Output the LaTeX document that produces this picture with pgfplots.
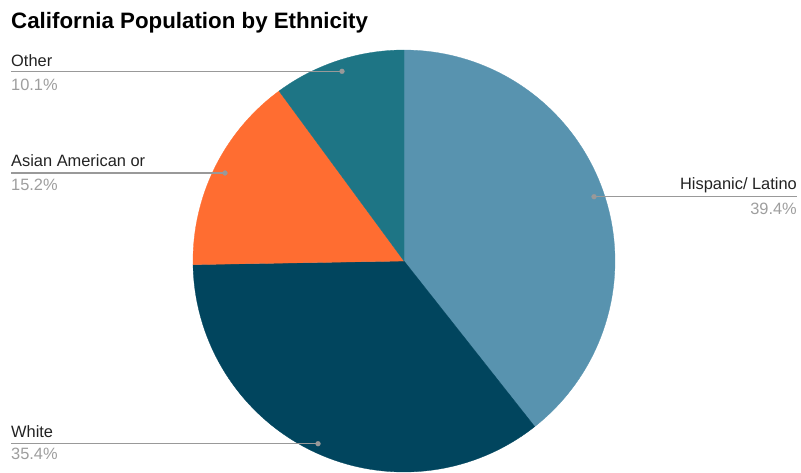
\documentclass[border=0pt]{standalone}
\usepackage{pgfplots}
\usepackage{pgfplotstable}
\pgfplotsset{compat=1.18}
\usepackage{fontspec}
\setmainfont{Liberation Sans}
\definecolor{cHisp}{RGB}{88,147,175}
\definecolor{cWhite}{RGB}{1,69,94}
\definecolor{cAsian}{RGB}{255,109,49}
\definecolor{cOther}{RGB}{30,117,133}
\definecolor{cText}{RGB}{34,34,34}
\definecolor{cPct}{RGB}{158,158,158}
\definecolor{cLine}{RGB}{153,153,153}
\pgfplotstableread{
label value
Hispanic 39.4
White 35.4
Asian 15.2
Other 10.1
}\piedata
\newcommand{\lbl}{\fontsize{16.4bp}{19bp}\selectfont}
\begin{document}
\begin{tikzpicture}
\pgfplotstablegetelem{0}{value}\of\piedata \pgfmathsetmacro{\vA}{\pgfplotsretval}
\pgfplotstablegetelem{1}{value}\of\piedata \pgfmathsetmacro{\vB}{\pgfplotsretval}
\pgfplotstablegetelem{2}{value}\of\piedata \pgfmathsetmacro{\vC}{\pgfplotsretval}
\pgfplotstablegetelem{3}{value}\of\piedata \pgfmathsetmacro{\vD}{\pgfplotsretval}
\pgfmathsetmacro{\tot}{\vA+\vB+\vC+\vD}
\pgfmathsetmacro{\aA}{90-360*\vA/\tot}
\pgfmathsetmacro{\aB}{\aA-360*\vB/\tot}
\pgfmathsetmacro{\aC}{\aB-360*\vC/\tot}
\pgfmathsetmacro{\aD}{\aC-360*\vD/\tot}
\begin{axis}[width=801bp, height=472bp, scale only axis,
  xmin=0, xmax=801, ymin=0, ymax=472, y dir=reverse,
  hide axis, clip=false]
\path[draw=none] (axis cs:0,0) rectangle (axis cs:801,472);
\addplot[fill=cHisp, draw=cHisp, line width=0.3pt, domain=\aA:90, samples=90, variable=\t]
  ({404+211*cos(t)},{261-211*sin(t)}) -- (axis cs:404,261) -- cycle;
\addplot[fill=cWhite, draw=cWhite, line width=0.3pt, domain=\aB:\aA, samples=90, variable=\t]
  ({404+211*cos(t)},{261-211*sin(t)}) -- (axis cs:404,261) -- cycle;
\addplot[fill=cAsian, draw=cAsian, line width=0.3pt, domain=\aC:\aB, samples=50, variable=\t]
  ({404+211*cos(t)},{261-211*sin(t)}) -- (axis cs:404,261) -- cycle;
\addplot[fill=cOther, draw=cOther, line width=0.3pt, domain=\aD:\aC, samples=40, variable=\t]
  ({404+211*cos(t)},{261-211*sin(t)}) -- (axis cs:404,261) -- cycle;
% leader lines
\addplot[cLine, line width=1.4bp] coordinates {(11,71.3) (342,71.3)};
\addplot[cLine, line width=1.4bp] coordinates {(11,173) (225,173)};
\addplot[cLine, line width=1.4bp] coordinates {(594,196.7) (797,196.7)};
\addplot[cLine, line width=1.4bp] coordinates {(11,443.7) (318,443.7)};
\addplot[only marks, mark=*, mark size=2.4bp, cLine] coordinates {(342,71.3) (225,173) (594,196.7) (318,443.7)};
% labels
\node[anchor=base west, inner sep=0pt, font=\bfseries\fontsize{22.3bp}{26bp}\selectfont, text=black] at (axis cs:11,28) {California Population by Ethnicity};
\node[anchor=base west, inner sep=0pt, font=\lbl, text=cText] at (axis cs:11,66.7) {Other};
\node[anchor=base west, inner sep=0pt, font=\lbl, text=cPct] at (axis cs:11,90) {10.1\%};
\node[anchor=base west, inner sep=0pt, font=\lbl, text=cText] at (axis cs:11,166.7) {Asian American or};
\node[anchor=base west, inner sep=0pt, font=\lbl, text=cPct] at (axis cs:11,190.7) {15.2\%};
\node[anchor=base east, inner sep=0pt, font=\lbl, text=cText] at (axis cs:797,189.3) {Hispanic/ Latino};
\node[anchor=base east, inner sep=0pt, font=\lbl, text=cPct] at (axis cs:797,214) {39.4\%};
\node[anchor=base west, inner sep=0pt, font=\lbl, text=cText] at (axis cs:11,437.3) {White};
\node[anchor=base west, inner sep=0pt, font=\lbl, text=cPct] at (axis cs:11,459) {35.4\%};
\end{axis}
\end{tikzpicture}
\end{document}
